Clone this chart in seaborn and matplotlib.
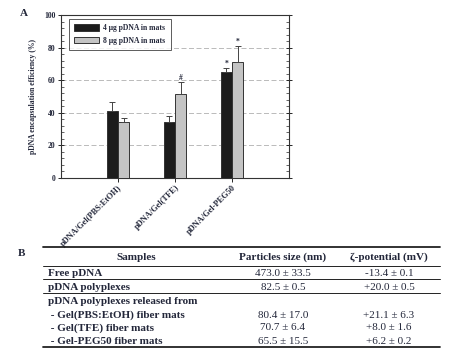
import matplotlib
matplotlib.use("Agg")
import matplotlib.pyplot as plt
from matplotlib.lines import Line2D
from matplotlib.ticker import MultipleLocator
import numpy as np
import pandas as pd
import seaborn as sns

# bar chart data (panel A)
samples = ["pDNA/Gel(PBS:EtOH)", "pDNA/Gel(TFE)", "pDNA/Gel-PEG50"]
groups = ["4 \u03bcg pDNA in mats", "8 \u03bcg pDNA in mats"]
eff_4ug = [41.3, 34.6, 64.8]
eff_8ug = [34.2, 51.5, 71.2]
err_4ug = [5.3, 3.4, 2.7]
err_8ug = [2.8, 7.2, 9.6]
marks_4ug = ["", "", "*"]
marks_8ug = ["", "#", "*"]

# table data (panel B)
tbl_header = ["Samples", "Particles size (nm)", "\u03b6-potential (mV)"]
tbl_rows = ["Free pDNA", "pDNA polyplexes", "pDNA polyplexes released from",
            " - Gel(PBS:EtOH) fiber mats", " - Gel(TFE) fiber mats", " - Gel-PEG50 fiber mats"]
tbl_size = ["473.0 \u00b1 33.5", "82.5 \u00b1 0.5", "",
            "80.4 \u00b1 17.0", "70.7 \u00b1 6.4", "65.5 \u00b1 15.5"]
tbl_zeta = ["-13.4 \u00b1 0.1", "+20.0 \u00b1 0.5", "",
            "+21.1 \u00b1 6.3", "+8.0 \u00b1 1.6", "+6.2 \u00b1 0.2"]

sns.set_theme(style="white")
plt.rcParams["font.family"] = ["Liberation Serif", "DejaVu Serif"]
plt.rcParams["font.weight"] = "bold"
txt = "#23273a"

df = pd.DataFrame({
    "sample": samples * 2,
    "group": [groups[0]] * 3 + [groups[1]] * 3,
    "eff": eff_4ug + eff_8ug,
})

W, H = 456, 355
fig = plt.figure(figsize=(W / 100, H / 100), dpi=100)
ax = fig.add_axes([61 / W, 1 - 178 / H, 228 / W, 163 / H])

sns.barplot(data=df, x="sample", y="eff", hue="group", order=samples, hue_order=groups,
            palette=["#1c1c1c", "#c4c4c4"], width=0.39, gap=0, errorbar=None,
            edgecolor="#333333", linewidth=0.7, ax=ax, zorder=3)

bars = ax.patches[:6]
errs = err_4ug + err_8ug
marks = marks_4ug + marks_8ug
for b, e, m in zip(bars, errs, marks):
    cx = b.get_x() + b.get_width() / 2
    top = b.get_height()
    ax.errorbar(cx, top, yerr=[[0], [e]], color="#444444", capsize=2.5, elinewidth=0.7,
                capthick=0.7, zorder=4)
    if m:
        ax.text(cx, top + e + 0.3, m, ha="center", va="bottom", fontsize=5.5, color=txt)

ax.set_xlim(-1, 3)
ax.set_ylim(0, 100)
ax.yaxis.set_major_locator(MultipleLocator(20))
ax.yaxis.set_minor_locator(MultipleLocator(4))
ax.tick_params(axis="y", which="major", direction="inout", length=4, width=0.7,
               labelsize=5.5, labelcolor=txt, left=True, right=True, pad=2)
ax.tick_params(axis="y", which="minor", direction="in", length=2, width=0.5, left=True, right=True)
ax.tick_params(axis="x", direction="out", length=3, width=0.7, bottom=True, labelsize=6,
               labelcolor=txt, pad=1)
ax.set_yticks([0, 20, 40, 60, 80, 100])
ax.set_yticklabels(["0", "20", "40", "60", "80", "100"], fontweight="bold")
ax.set_xticks(range(3))
ax.set_xticklabels(samples, rotation=45, ha="right", rotation_mode="anchor", fontweight="bold")
ax.yaxis.grid(True, linestyle=(0, (6, 3)), color="#b0b0b0", linewidth=0.6, zorder=0)
ax.set_axisbelow(True)
for s in ax.spines.values():
    s.set_color("#333333")
    s.set_linewidth(0.8)
ax.set_xlabel("")
ax.set_ylabel("pDNA encapsulation efficiency (%)", fontsize=5.5, color=txt, fontweight="bold",
              labelpad=5)

leg = ax.legend(loc="upper left", bbox_to_anchor=(0.035, 0.975), frameon=True, fancybox=False,
                fontsize=5.5, handlelength=3.2, handleheight=1.0, borderpad=0.7,
                labelspacing=0.55, handletextpad=0.6, borderaxespad=0)
leg.get_frame().set_edgecolor("#333333")
leg.get_frame().set_linewidth(0.7)
for t in leg.get_texts():
    t.set_color(txt)
    t.set_fontweight("bold")

fig.text(20 / W, 1 - 13 / H, "A", fontsize=8, fontweight="bold", color=txt, ha="left", va="center")
fig.text(18 / W, 1 - 254 / H, "B", fontsize=8, fontweight="bold", color=txt, ha="left", va="center")

# table (panel B)
x0, x1 = 43 / W, 440 / W
def hline(ypx, lw):
    fig.add_artist(Line2D([x0, x1], [1 - ypx / H, 1 - ypx / H], color="#222222", linewidth=lw))

hline(247, 1.3)
hline(266, 0.7)
hline(279, 0.7)
hline(293, 0.7)
hline(347, 1.3)

fs = 8
col_x = [136 / W, 283 / W, 389 / W]
for cx, h in zip(col_x, tbl_header):
    fig.text(cx, 1 - 257 / H, h, fontsize=fs, fontweight="bold", ha="center", va="center", color=txt)

row_y = [274, 288, 302, 315, 328, 341]
for ry, lab, sz, zt in zip(row_y, tbl_rows, tbl_size, tbl_zeta):
    fig.text(48 / W, 1 - ry / H, lab, fontsize=fs, fontweight="bold", ha="left", va="center", color=txt)
    if sz:
        fig.text(col_x[1], 1 - ry / H, sz, fontsize=fs, fontweight="normal", ha="center",
                 va="center", color=txt)
    if zt:
        fig.text(col_x[2], 1 - ry / H, zt, fontsize=fs, fontweight="normal", ha="center",
                 va="center", color=txt)

fig.savefig("out.png", dpi=100, facecolor="white")
